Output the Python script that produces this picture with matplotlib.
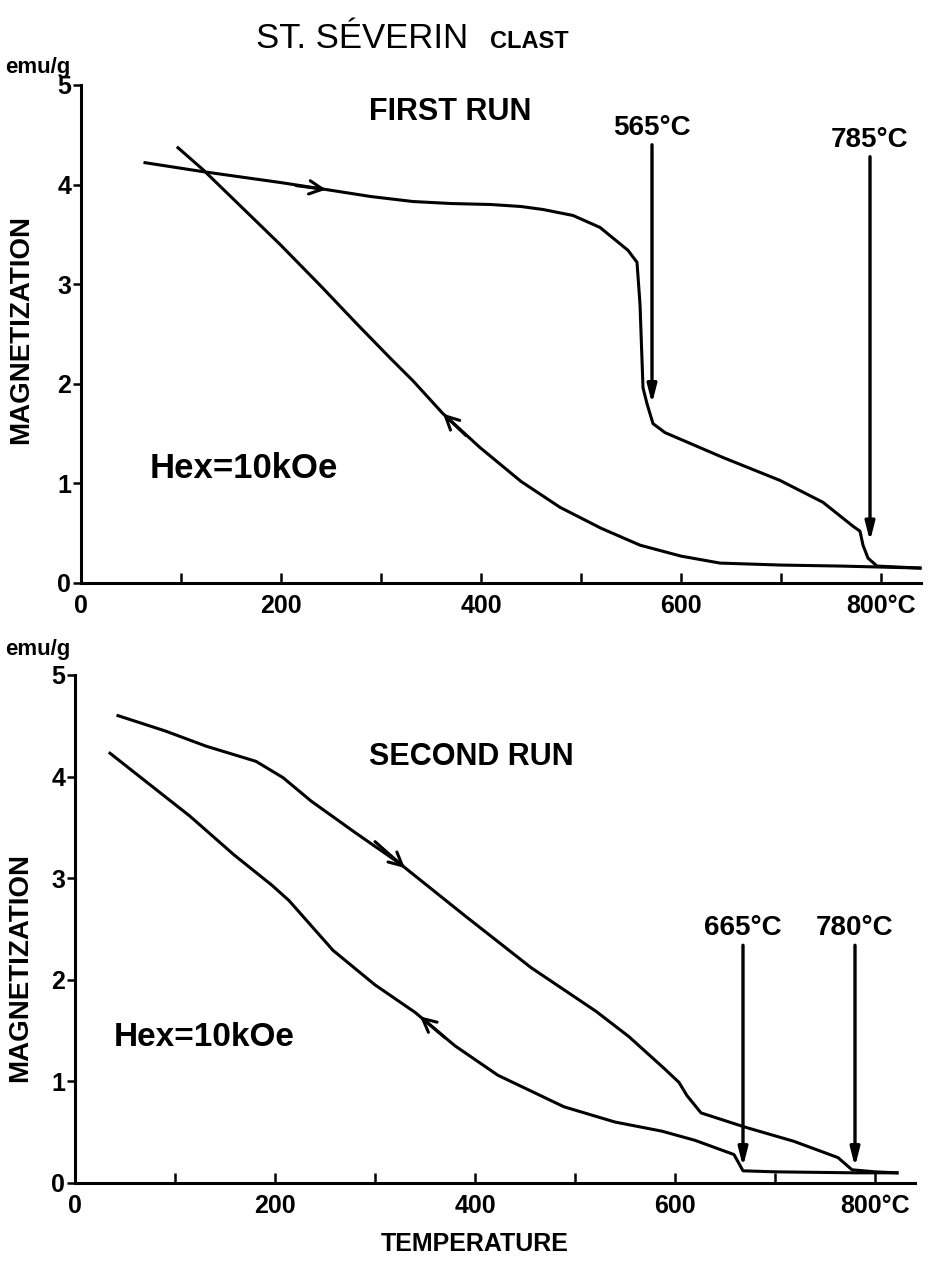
import matplotlib.pyplot as plt

plt.rcParams['font.family'] = ['Liberation Sans', 'DejaVu Sans']

# first run, heating (temperature in C, magnetization in emu/g)
t1_heat = [64, 122, 200, 239, 290, 332, 370, 410, 440, 462, 492, 519, 547, 556, 559, 562, 566,
           572, 584, 642, 699, 742, 772, 779, 782, 787, 796, 839]
m1_heat = [4.22, 4.13, 4.02, 3.96, 3.88, 3.83, 3.81, 3.80, 3.78, 3.75, 3.69, 3.57, 3.34, 3.22,
           2.80, 1.96, 1.80, 1.60, 1.51, 1.26, 1.03, 0.81, 0.57, 0.52, 0.38, 0.25, 0.17, 0.15]
# first run, cooling
t1_cool = [97, 122, 160, 199, 240, 276, 310, 332, 362, 399, 440, 479, 520, 559, 600, 639,
           700, 760, 839]
m1_cool = [4.37, 4.15, 3.78, 3.40, 2.98, 2.60, 2.25, 2.03, 1.70, 1.36, 1.02, 0.76, 0.55, 0.38,
           0.27, 0.20, 0.18, 0.17, 0.15]

# second run, heating
t2_heat = [43, 90, 131, 181, 208, 236, 280, 324, 390, 456, 521, 554, 590, 604, 612, 626, 670,
           719, 763, 777, 800, 822]
m2_heat = [4.60, 4.45, 4.30, 4.15, 3.99, 3.76, 3.45, 3.15, 2.63, 2.12, 1.69, 1.44, 1.12, 0.99,
           0.86, 0.69, 0.55, 0.41, 0.25, 0.13, 0.11, 0.10]
# second run, cooling
t2_cool = [35, 115, 159, 197, 214, 258, 300, 340, 380, 423, 489, 540, 587, 620, 659, 668, 700,
           780, 822]
m2_cool = [4.23, 3.61, 3.23, 2.93, 2.78, 2.29, 1.95, 1.68, 1.35, 1.06, 0.75, 0.60, 0.51, 0.42,
           0.28, 0.12, 0.11, 0.10, 0.10]

curie1 = ['565°C', '785°C']
curie1_x = [571, 789]
curie2 = ['665°C', '780°C']
curie2_x = [668, 780]

xticks = [0, 100, 200, 300, 400, 500, 600, 700, 800]
xlabels = ['0', '', '200', '', '400', '', '600', '', '800°C']
yticks = [0, 1, 2, 3, 4, 5]

W, H = 938, 1261
fig = plt.figure(figsize=(W / 100, H / 100), dpi=100)
ax1 = fig.add_axes([81 / W, (H - 583) / H, 840 / W, 498 / H])
ax2 = fig.add_axes([75 / W, (H - 1183) / H, 840 / W, 508 / H])

lw = 2.2
for ax in (ax1, ax2):
    ax.set_xlim(0, 840)
    ax.set_ylim(0, 5)
    for s in ('top', 'right'):
        ax.spines[s].set_visible(False)
    for s in ('left', 'bottom'):
        ax.spines[s].set_linewidth(lw)
    ax.set_xticks(xticks)
    ax.set_xticklabels(xlabels)
    ax.set_yticks(yticks)
    ax.tick_params(axis='x', direction='in', length=7, width=1.8, pad=8, labelsize=18)
    ax.tick_params(axis='y', direction='out', length=6, width=1.8, pad=1, labelsize=18)
    for lbl in ax.get_xticklabels() + ax.get_yticklabels():
        lbl.set_fontweight('bold')

# curves
ax1.plot(t1_heat, m1_heat, color='black', lw=lw, clip_on=False)
ax1.plot(t1_cool, m1_cool, color='black', lw=lw, clip_on=False)
ax2.plot(t2_heat, m2_heat, color='black', lw=lw, clip_on=False)
ax2.plot(t2_cool, m2_cool, color='black', lw=lw, clip_on=False)

# direction chevrons on the curves
chev = dict(arrowstyle='->', lw=lw, color='black', mutation_scale=24, shrinkA=0, shrinkB=0)
ax1.annotate('', xy=(245, 3.95), xytext=(215, 3.99), arrowprops=chev)
ax1.annotate('', xy=(362, 1.70), xytext=(385, 1.48), arrowprops=chev)
ax2.annotate('', xy=(330, 3.10), xytext=(300, 3.36), arrowprops=chev)
ax2.annotate('', xy=(345, 1.64), xytext=(370, 1.43), arrowprops=chev)

# curie point arrows
down = dict(arrowstyle='-|>,head_length=1.1,head_width=0.28', lw=2.4, color='black',
            shrinkA=0, shrinkB=0)
for lab, x, ytop, ytip, ylab in zip(curie1, curie1_x, [4.40, 4.28], [1.80, 0.42], [4.57, 4.45]):
    ax1.annotate('', xy=(x, ytip), xytext=(x, ytop), arrowprops=down)
    ax1.text(x, ylab, lab, ha='center', va='center', fontsize=20, fontweight='bold')
for lab, x in zip(curie2, curie2_x):
    ax2.annotate('', xy=(x, 0.16), xytext=(x, 2.34), arrowprops=down)
    ax2.text(x, 2.51, lab, ha='center', va='center', fontsize=20, fontweight='bold')

# texts
def ft(x, y, s, **kw):
    fig.text(x / W, 1 - y / H, s, **kw)

ft(256, 48, 'ST. SÉVERIN', fontsize=25, va='baseline', ha='left')
ft(490, 48, 'CLAST', fontsize=17, fontweight='bold', va='baseline', ha='left')
ft(450, 112, 'FIRST RUN', fontsize=22, fontweight='bold', ha='center', va='center')
ft(471, 757, 'SECOND RUN', fontsize=22, fontweight='bold', ha='center', va='center')
ft(150, 468, 'Hex=10kOe', fontsize=25, fontweight='bold', ha='left', va='center')
ft(114, 1038, 'Hex=10kOe', fontsize=24, fontweight='bold', ha='left', va='center')
ft(38, 67, 'emu/g', fontsize=16, fontweight='bold', ha='center', va='center')
ft(38, 650, 'emu/g', fontsize=16, fontweight='bold', ha='center', va='center')
ft(21, 330, 'MAGNETIZATION', fontsize=20, fontweight='bold', rotation=90,
   ha='center', va='center')
ft(20, 968, 'MAGNETIZATION', fontsize=20, fontweight='bold', rotation=90,
   ha='center', va='center')
ft(475, 1244, 'TEMPERATURE', fontsize=18, fontweight='bold', ha='center', va='center')

fig.savefig('out.png', dpi=100)
